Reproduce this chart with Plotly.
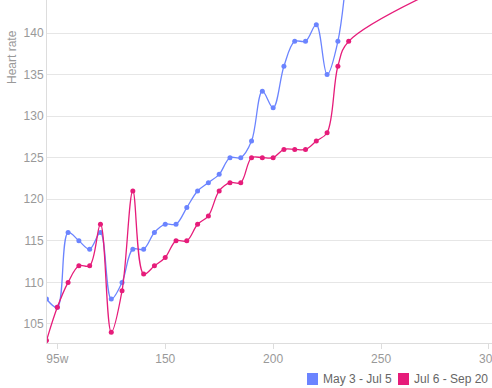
import plotly.graph_objects as go

# ---- data ----
x_vals = [95, 100, 105, 110, 115, 120, 125, 130, 135, 140, 145, 150, 155, 160,
          165, 170, 175, 180, 185, 190, 195, 200, 205, 210, 215, 220, 225, 230, 235]
may_jul = [108, 107, 116, 115, 114, 116, 108, 110, 114, 114, 116, 117, 117, 119,
           121, 122, 123, 125, 125, 127, 133, 131, 136, 139, 139, 141, 135, 139, 150]
jul_sep_x = x_vals + [300]
jul_sep = [103, 107, 110, 112, 112, 117, 104, 109, 121, 111, 112, 113, 115, 115,
           117, 118, 121, 122, 122, 125, 125, 125, 126, 126, 126, 127, 128, 136, 139, 148]
series_names = ["May 3 - Jul 5", "Jul 6 - Sep 20"]
x_tickvals = [100, 150, 200, 250, 300]
x_ticktext = ["95w", "150", "200", "250", "300"]
y_tickvals = [105, 110, 115, 120, 125, 130, 135, 140]

BLUE = "#6b84ff"
PINK = "#e61c7a"
FONT = "Liberation Sans, Arial, sans-serif"

fig = go.Figure()
fig.add_trace(go.Scatter(
    x=x_vals, y=may_jul, name=series_names[0], mode="lines+markers",
    line=dict(color=BLUE, width=1.3, shape="spline", smoothing=1),
    marker=dict(color=BLUE, size=5), showlegend=False, cliponaxis=True))
fig.add_trace(go.Scatter(
    x=jul_sep_x, y=jul_sep, name=series_names[1], mode="lines+markers",
    line=dict(color=PINK, width=1.3, shape="spline", smoothing=1),
    marker=dict(color=PINK, size=5), showlegend=False, cliponaxis=True))

fig.update_layout(
    width=492, height=388,
    margin=dict(l=47, r=0, t=0, b=45, autoexpand=False),
    plot_bgcolor="white", paper_bgcolor="white",
    font=dict(family=FONT, size=12, color="#999999"),
    hovermode=False,
    xaxis=dict(range=[95.23, 301.4], showgrid=False, zeroline=False,
               tickvals=x_tickvals, ticktext=x_ticktext,
               ticks="outside", ticklen=5, tickcolor="#dddddd",
               ticklabeloverflow="allow", automargin=False,
               showline=True, linecolor="#dddddd", linewidth=1,
               tickfont=dict(family=FONT, size=12, color="#999999")),
    yaxis=dict(range=[102.71, 143.97], showgrid=True, gridcolor="#e6e6e6",
               zeroline=False, tickvals=y_tickvals, automargin=False,
               showline=True, linecolor="#dddddd", linewidth=1,
               tickfont=dict(family=FONT, size=12, color="#999999")),
)

# y-axis title
fig.add_annotation(text="Heart rate", xref="paper", yref="paper",
                   x=-35 / 445, y=1 - 57 / 343, xanchor="center", yanchor="middle",
                   textangle=-90, showarrow=False,
                   font=dict(family=FONT, size=12, color="#999999"))

# legend (manual, below the plot at the right)
legend_items = [(series_names[0], BLUE, 307), (series_names[1], PINK, 398)]
for name, color, px in legend_items:
    x0 = (px - 47) / 445
    x1 = (px + 11 - 47) / 445
    fig.add_shape(type="rect", xref="paper", yref="paper",
                  x0=x0, x1=x1, y0=-(385 - 343) / 343,
                  y1=-(373 - 343) / 343,
                  fillcolor=color, line=dict(width=0), layer="above")
    fig.add_annotation(text=name, xref="paper", yref="paper",
                       x=(px + 14 - 47) / 445, y=-(379 - 343) / 343,
                       xanchor="left", yanchor="middle", showarrow=False,
                       font=dict(family=FONT, size=12, color="#666666"))

fig.write_html("out.html")
